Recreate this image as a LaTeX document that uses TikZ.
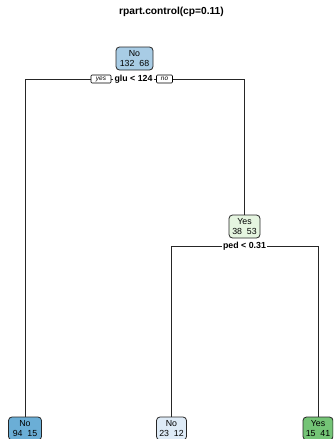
\documentclass[tikz,border=0pt]{standalone}
\usepackage{fontspec}
\setmainfont{Liberation Sans}
\begin{document}
\begin{tikzpicture}[x=1pt,y=-1pt,
  treebox/.style={draw=black!85, line width=0.8pt, rounded corners=3.5pt,
    minimum height=23pt, inner sep=0pt, align=center,
    font=\fontsize{8.8}{10.5}\selectfont},
  splitlabel/.style={inner sep=1pt, font=\bfseries\fontsize{8.8}{10}\selectfont},
  dirlabel/.style={draw=black, line width=0.6pt, fill=white, inner sep=0pt,
    rounded corners=1pt, minimum height=8pt,
    font=\itshape\fontsize{6.5}{6.5}\selectfont},
  branch/.style={draw=black!85, line width=0.9pt}]
\definecolor{blueA}{RGB}{168,204,229}
\definecolor{blueB}{RGB}{107,174,214}
\definecolor{blueC}{RGB}{222,235,247}
\definecolor{greenA}{RGB}{229,245,224}
\definecolor{greenB}{RGB}{116,196,118}
\useasboundingbox (0,0) rectangle (333,439);
\clip (0,0) rectangle (333,439);

% title
\node[font=\bfseries\fontsize{10.2}{12}\selectfont] (title) at (171.5,12) {rpart.control(cp=0.11)};

% nodes of the tree
\node[treebox, fill=blueA, minimum width=37pt] (root) at (134.5,58.5) {No\\132\ \ 68};
\node[dirlabel, minimum width=20pt] (yeslab) at (101,79) {yes};
\node[splitlabel] (glu) at (133.5,79) {glu < 124};
\node[dirlabel, minimum width=16pt] (nolab) at (164.5,79) {no};

\node[treebox, fill=greenA, minimum width=31pt] (mid) at (244.5,226.5) {Yes\\38\ \ 53};
\node[splitlabel, fill=white] (ped) at (244.5,246) {ped < 0.31};

\node[treebox, fill=blueB, minimum width=33pt] (leafL) at (25,428.5) {No\\94\ \ 15};
\node[treebox, fill=blueC, minimum width=30pt] (leafM) at (171.5,428.5) {No\\23\ \ 12};
\node[treebox, fill=greenB, minimum width=30pt] (leafR) at (318,428.5) {Yes\\15\ \ 41};

% branches
\draw[branch] (leafL.north) |- (yeslab.west);
\draw[branch] (yeslab.east) -- (glu.west);
\draw[branch] (glu.east) -- (nolab.west);
\draw[branch] (nolab.east) -| (mid.north);
\draw[branch] (leafM.north) |- (ped.west);
\draw[branch] (ped.east) -| (leafR.north);
\end{tikzpicture}
\end{document}
